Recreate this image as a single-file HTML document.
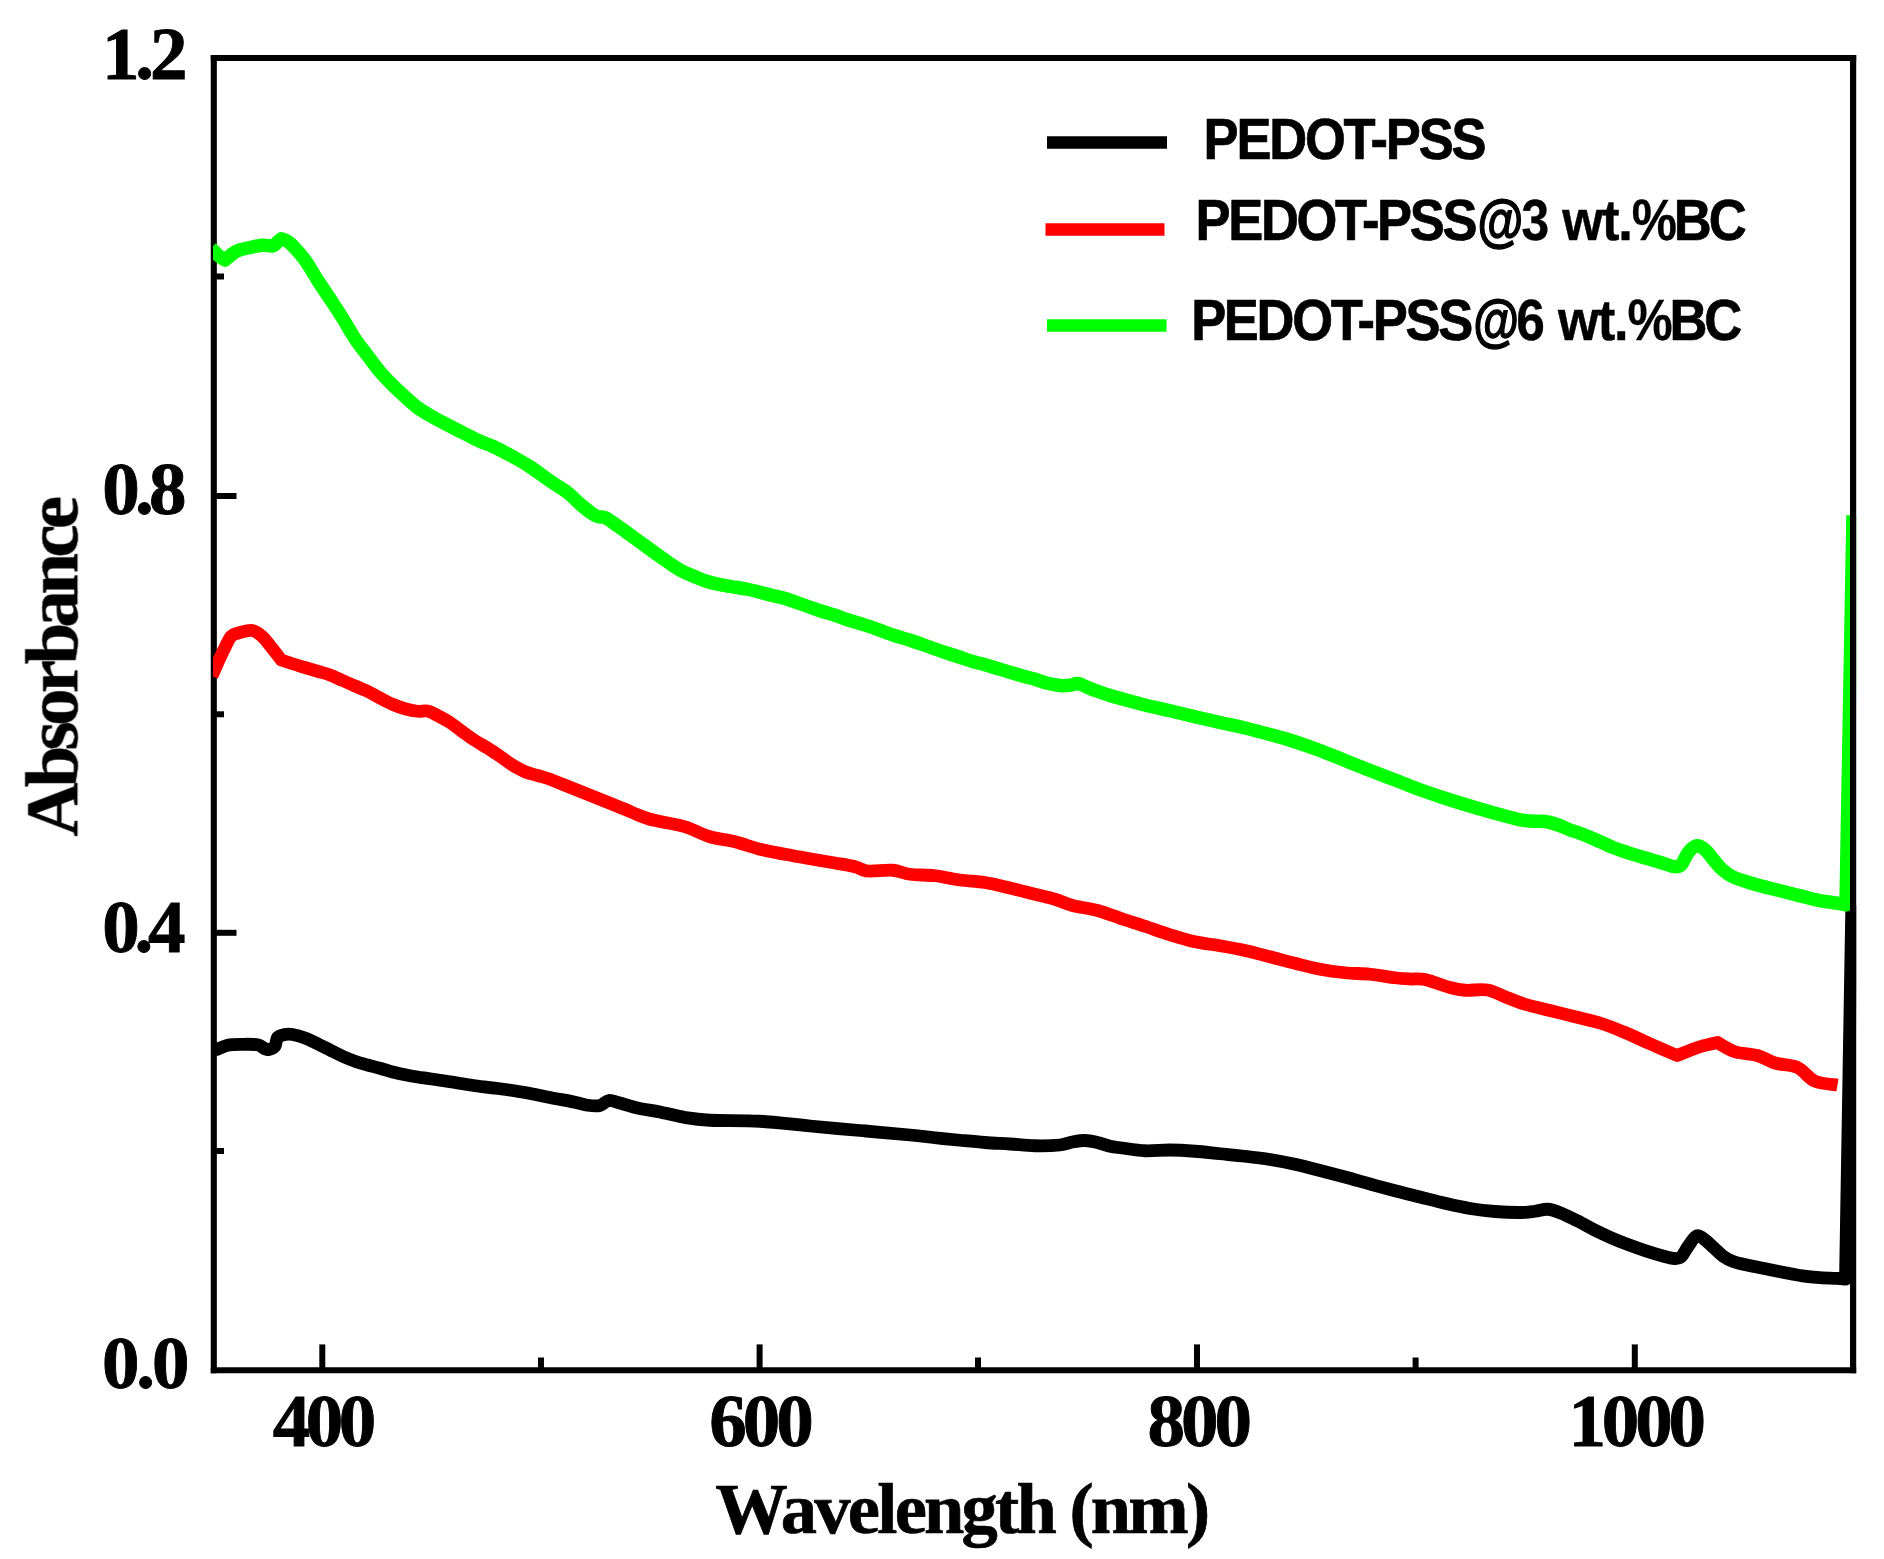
<!DOCTYPE html>
<html><head><meta charset="utf-8"><title>Absorbance spectra</title>
<style>
html,body{margin:0;padding:0;background:#fff;overflow:hidden;}
svg{display:block;}
.s{font-family:"Liberation Serif","DejaVu Serif",serif;font-weight:bold;fill:#000;}
.a{font-family:"Liberation Sans","DejaVu Sans",sans-serif;font-weight:bold;fill:#000;}
</style></head><body>
<svg width="1884" height="1559" viewBox="0 0 1884 1559">
<rect width="1884" height="1559" fill="#fff"/>
<filter id="soft" x="0" y="0" width="1884" height="1559" filterUnits="userSpaceOnUse"><feGaussianBlur stdDeviation="0.55"/></filter>
<g filter="url(#soft)">
<!-- axes under curves -->
<g stroke="#000" fill="none">
<line x1="213.8" y1="55.1" x2="213.8" y2="1373.3" stroke-width="6.1"/>
<line x1="210.75" y1="58.1" x2="1856.2" y2="58.1" stroke-width="6"/>
<line x1="210.75" y1="1370.3" x2="1856.2" y2="1370.3" stroke-width="6.1"/>
</g>
<!-- data curves -->
<clipPath id="plotclip"><rect x="213" y="0" width="1643.2" height="1559"/></clipPath>
<g fill="none" stroke-linejoin="round" stroke-linecap="butt" clip-path="url(#plotclip)">
<path stroke="#000" stroke-width="12.8" d="M211.00,1051.00C212.08,1050.71 214.75,1050.22 217.50,1049.25C220.25,1048.28 223.33,1046.03 227.50,1045.20C231.67,1044.38 237.50,1044.37 242.50,1044.30C247.50,1044.23 253.75,1044.06 257.50,1044.80C261.25,1045.54 263.12,1047.97 265.00,1048.75C266.88,1049.53 267.08,1049.92 268.75,1049.50C270.42,1049.08 273.54,1048.25 275.00,1046.25C276.46,1044.25 275.83,1039.46 277.50,1037.50C279.17,1035.54 282.50,1035.00 285.00,1034.50C287.50,1034.00 289.17,1033.92 292.50,1034.50C295.83,1035.08 300.83,1036.46 305.00,1038.00C309.17,1039.54 313.33,1041.75 317.50,1043.75C321.67,1045.75 325.83,1047.92 330.00,1050.00C334.17,1052.08 338.33,1054.38 342.50,1056.25C346.67,1058.12 350.83,1059.79 355.00,1061.25C359.17,1062.71 363.33,1063.83 367.50,1065.00C371.67,1066.17 375.83,1067.08 380.00,1068.25C384.17,1069.42 388.33,1070.92 392.50,1072.00C396.67,1073.08 400.83,1073.92 405.00,1074.75C409.17,1075.58 413.33,1076.33 417.50,1077.00C421.67,1077.67 424.58,1077.96 430.00,1078.75C435.42,1079.54 442.50,1080.58 450.00,1081.75C457.50,1082.92 466.67,1084.58 475.00,1085.75C483.33,1086.92 491.67,1087.62 500.00,1088.75C508.33,1089.88 516.67,1091.04 525.00,1092.50C533.33,1093.96 541.67,1095.88 550.00,1097.50C558.33,1099.12 568.75,1100.96 575.00,1102.25C581.25,1103.54 583.33,1104.71 587.50,1105.25C591.67,1105.79 596.46,1106.29 600.00,1105.50C603.54,1104.71 605.42,1100.92 608.75,1100.50C612.08,1100.08 615.21,1101.75 620.00,1103.00C624.79,1104.25 630.83,1106.50 637.50,1108.00C644.17,1109.50 652.08,1110.42 660.00,1112.00C667.92,1113.58 676.67,1116.12 685.00,1117.50C693.33,1118.88 697.50,1119.62 710.00,1120.25C722.50,1120.88 743.33,1120.29 760.00,1121.25C776.67,1122.21 793.33,1124.46 810.00,1126.00C826.67,1127.54 843.33,1129.00 860.00,1130.50C876.67,1132.00 897.50,1133.79 910.00,1135.00C922.50,1136.21 926.67,1136.88 935.00,1137.75C943.33,1138.62 951.67,1139.46 960.00,1140.25C968.33,1141.04 976.67,1141.88 985.00,1142.50C993.33,1143.12 1001.67,1143.46 1010.00,1144.00C1018.33,1144.54 1026.67,1145.58 1035.00,1145.75C1043.33,1145.92 1053.75,1145.62 1060.00,1145.00C1066.25,1144.38 1068.33,1142.75 1072.50,1142.00C1076.67,1141.25 1080.83,1140.42 1085.00,1140.50C1089.17,1140.58 1093.33,1141.54 1097.50,1142.50C1101.67,1143.46 1105.92,1145.33 1110.00,1146.25C1114.08,1147.17 1116.17,1147.25 1122.00,1148.00C1127.83,1148.75 1137.00,1150.42 1145.00,1150.75C1153.00,1151.08 1161.67,1149.92 1170.00,1150.00C1178.33,1150.08 1186.67,1150.62 1195.00,1151.25C1203.33,1151.88 1211.67,1152.92 1220.00,1153.75C1228.33,1154.58 1236.67,1155.29 1245.00,1156.25C1253.33,1157.21 1261.67,1158.17 1270.00,1159.50C1278.33,1160.83 1286.67,1162.42 1295.00,1164.25C1303.33,1166.08 1311.67,1168.38 1320.00,1170.50C1328.33,1172.62 1336.67,1174.75 1345.00,1177.00C1353.33,1179.25 1361.67,1181.71 1370.00,1184.00C1378.33,1186.29 1386.67,1188.58 1395.00,1190.75C1403.33,1192.92 1411.67,1194.92 1420.00,1197.00C1428.33,1199.08 1436.67,1201.33 1445.00,1203.25C1453.33,1205.17 1461.67,1207.12 1470.00,1208.50C1478.33,1209.88 1486.67,1210.83 1495.00,1211.50C1503.33,1212.17 1513.33,1212.54 1520.00,1212.50C1526.67,1212.46 1530.42,1211.79 1535.00,1211.25C1539.58,1210.71 1543.33,1209.01 1547.50,1209.25C1551.67,1209.49 1555.03,1210.78 1560.00,1212.70C1564.97,1214.62 1571.53,1217.92 1577.30,1220.80C1583.07,1223.68 1588.83,1227.12 1594.60,1230.00C1600.37,1232.88 1606.12,1235.60 1611.90,1238.10C1617.68,1240.60 1623.52,1242.83 1629.30,1245.00C1635.08,1247.17 1640.83,1249.22 1646.60,1251.10C1652.37,1252.98 1659.28,1255.07 1663.90,1256.30C1668.52,1257.53 1671.42,1258.42 1674.30,1258.50C1677.18,1258.58 1678.90,1258.82 1681.20,1256.80C1683.50,1254.78 1685.50,1249.92 1688.10,1246.40C1690.70,1242.88 1693.90,1236.72 1696.80,1235.70C1699.70,1234.68 1702.62,1238.23 1705.50,1240.30C1708.38,1242.37 1711.22,1245.50 1714.10,1248.10C1716.98,1250.70 1719.62,1253.67 1722.80,1255.90C1725.98,1258.13 1728.58,1259.85 1733.20,1261.50C1737.82,1263.15 1744.73,1264.50 1750.50,1265.80C1756.27,1267.10 1762.03,1268.15 1767.80,1269.30C1773.57,1270.45 1779.33,1271.62 1785.10,1272.70C1790.87,1273.78 1796.63,1274.98 1802.40,1275.80C1808.17,1276.62 1813.92,1277.17 1819.70,1277.60C1825.48,1278.03 1834.20,1278.27 1837.10,1278.40L1845.50,1279.20L1851.80,905.00"/>
<path stroke="#f00" stroke-width="12.8" d="M212.00,676.00C213.17,673.33 216.83,664.75 219.00,660.00C221.17,655.25 222.96,651.46 225.00,647.50C227.04,643.54 228.75,638.75 231.25,636.25C233.75,633.75 236.46,633.46 240.00,632.50C243.54,631.54 248.75,629.79 252.50,630.50C256.25,631.21 259.17,633.71 262.50,636.75C265.83,639.79 269.38,644.88 272.50,648.75C275.62,652.62 279.79,658.12 281.25,660.00C283.12,660.62 288.54,662.50 292.50,663.75C296.46,665.00 300.83,666.25 305.00,667.50C309.17,668.75 313.33,670.00 317.50,671.25C321.67,672.50 325.83,673.46 330.00,675.00C334.17,676.54 338.33,678.67 342.50,680.50C346.67,682.33 350.83,684.21 355.00,686.00C359.17,687.79 363.33,689.25 367.50,691.25C371.67,693.25 375.83,695.83 380.00,698.00C384.17,700.17 388.33,702.46 392.50,704.25C396.67,706.04 400.83,707.58 405.00,708.75C409.17,709.92 413.75,710.88 417.50,711.25C421.25,711.62 424.17,710.29 427.50,711.00C430.83,711.71 433.75,713.58 437.50,715.50C441.25,717.42 445.83,719.79 450.00,722.50C454.17,725.21 458.33,728.75 462.50,731.75C466.67,734.75 470.83,737.79 475.00,740.50C479.17,743.21 483.33,745.38 487.50,748.00C491.67,750.62 495.83,753.42 500.00,756.25C504.17,759.08 508.33,762.42 512.50,765.00C516.67,767.58 520.83,770.00 525.00,771.75C529.17,773.50 533.33,774.25 537.50,775.50C541.67,776.75 545.83,777.79 550.00,779.25C554.17,780.71 558.33,782.58 562.50,784.25C566.67,785.92 570.83,787.58 575.00,789.25C579.17,790.92 583.33,792.58 587.50,794.25C591.67,795.92 595.83,797.58 600.00,799.25C604.17,800.92 608.33,802.58 612.50,804.25C616.67,805.92 620.83,807.50 625.00,809.25C629.17,811.00 633.33,813.08 637.50,814.75C641.67,816.42 646.25,818.12 650.00,819.25C653.75,820.38 654.17,820.25 660.00,821.50C665.83,822.75 676.67,824.21 685.00,826.75C693.33,829.29 701.67,834.25 710.00,836.75C718.33,839.25 726.67,839.67 735.00,841.75C743.33,843.83 751.67,847.17 760.00,849.25C768.33,851.33 776.67,852.67 785.00,854.25C793.33,855.83 801.67,857.29 810.00,858.75C818.33,860.21 827.50,861.67 835.00,863.00C842.50,864.33 849.58,865.42 855.00,866.75C860.42,868.08 861.25,870.42 867.50,871.00C873.75,871.58 885.42,869.71 892.50,870.25C899.58,870.79 902.92,873.33 910.00,874.25C917.08,875.17 926.67,874.79 935.00,875.75C943.33,876.71 951.67,878.88 960.00,880.00C968.33,881.12 976.67,881.17 985.00,882.50C993.33,883.83 1001.67,886.04 1010.00,888.00C1018.33,889.96 1027.50,892.38 1035.00,894.25C1042.50,896.12 1048.75,897.38 1055.00,899.25C1061.25,901.12 1065.42,903.62 1072.50,905.50C1079.58,907.38 1089.17,908.25 1097.50,910.50C1105.83,912.75 1114.58,916.38 1122.50,919.00C1130.42,921.62 1137.08,923.62 1145.00,926.25C1152.92,928.88 1161.67,932.17 1170.00,934.75C1178.33,937.33 1186.67,939.92 1195.00,941.75C1203.33,943.58 1211.67,944.29 1220.00,945.75C1228.33,947.21 1236.67,948.67 1245.00,950.50C1253.33,952.33 1261.67,954.62 1270.00,956.75C1278.33,958.88 1286.67,961.17 1295.00,963.25C1303.33,965.33 1311.67,967.67 1320.00,969.25C1328.33,970.83 1336.67,971.92 1345.00,972.75C1353.33,973.58 1361.67,973.42 1370.00,974.25C1378.33,975.08 1388.33,976.96 1395.00,977.75C1401.67,978.54 1405.00,978.71 1410.00,979.00C1415.00,979.29 1418.33,978.08 1425.00,979.50C1431.67,980.92 1443.33,985.71 1450.00,987.50C1456.67,989.29 1458.75,989.83 1465.00,990.25C1471.25,990.67 1480.83,988.92 1487.50,990.00C1494.17,991.08 1498.75,994.38 1505.00,996.75C1511.25,999.12 1517.50,1001.96 1525.00,1004.25C1532.50,1006.54 1541.67,1008.42 1550.00,1010.50C1558.33,1012.58 1566.67,1014.67 1575.00,1016.75C1583.33,1018.83 1591.67,1020.38 1600.00,1023.00C1608.33,1025.62 1616.67,1029.04 1625.00,1032.50C1633.33,1035.96 1641.33,1039.92 1650.00,1043.75C1658.67,1047.58 1672.50,1053.54 1677.00,1055.50C1680.83,1054.04 1693.25,1048.92 1700.00,1046.75C1706.75,1044.58 1714.58,1043.21 1717.50,1042.50C1720.42,1044.04 1728.33,1049.58 1735.00,1051.75C1741.67,1053.92 1750.83,1053.62 1757.50,1055.50C1764.17,1057.38 1768.33,1061.00 1775.00,1063.00C1781.67,1065.00 1790.83,1064.46 1797.50,1067.50C1804.17,1070.54 1808.33,1078.33 1815.00,1081.25C1821.67,1084.17 1833.75,1084.38 1837.50,1085.00"/>
<path stroke="#0f0" stroke-width="13.5" d="M211.00,248.00C212.33,249.33 216.67,254.00 219.00,256.00C221.33,258.00 224.00,259.33 225.00,260.00C226.00,259.17 228.92,256.54 231.00,255.00C233.08,253.46 234.33,252.00 237.50,250.75C240.67,249.50 245.83,248.42 250.00,247.50C254.17,246.58 258.75,245.50 262.50,245.25C266.25,245.00 270.08,246.46 272.50,246.00C274.92,245.54 275.54,243.71 277.00,242.50C278.46,241.29 280.54,239.38 281.25,238.75C282.21,239.12 285.12,239.88 287.00,241.00C288.88,242.12 289.50,242.33 292.50,245.50C295.50,248.67 300.83,254.25 305.00,260.00C309.17,265.75 313.33,273.54 317.50,280.00C321.67,286.46 325.83,292.42 330.00,298.75C334.17,305.08 338.33,311.33 342.50,318.00C346.67,324.67 350.83,332.50 355.00,338.75C359.17,345.00 363.33,350.00 367.50,355.50C371.67,361.00 375.83,366.83 380.00,371.75C384.17,376.67 388.33,380.83 392.50,385.00C396.67,389.17 400.83,393.00 405.00,396.75C409.17,400.50 413.33,404.38 417.50,407.50C421.67,410.62 425.83,413.04 430.00,415.50C434.17,417.96 438.33,420.04 442.50,422.25C446.67,424.46 450.83,426.62 455.00,428.75C459.17,430.88 463.33,432.92 467.50,435.00C471.67,437.08 475.83,439.38 480.00,441.25C484.17,443.12 488.33,444.38 492.50,446.25C496.67,448.12 500.83,450.33 505.00,452.50C509.17,454.67 513.33,456.88 517.50,459.25C521.67,461.62 525.83,464.04 530.00,466.75C534.17,469.46 538.33,472.58 542.50,475.50C546.67,478.42 550.83,481.42 555.00,484.25C559.17,487.08 563.33,489.21 567.50,492.50C571.67,495.79 575.80,500.42 580.00,504.00C584.20,507.58 589.53,511.87 592.70,514.00C595.87,516.13 596.87,516.17 599.00,516.80C601.13,517.43 602.30,516.22 605.50,517.80C608.70,519.38 613.95,523.35 618.20,526.30C622.45,529.25 626.75,532.43 631.00,535.50C635.25,538.57 639.47,541.62 643.70,544.70C647.93,547.78 652.15,550.95 656.40,554.00C660.65,557.05 664.95,560.17 669.20,563.00C673.45,565.83 677.67,568.73 681.90,571.00C686.13,573.27 690.35,574.85 694.60,576.60C698.85,578.35 703.15,580.15 707.40,581.50C711.65,582.85 715.50,583.74 720.10,584.70C724.70,585.66 730.43,586.49 735.00,587.25C739.57,588.01 743.33,588.42 747.50,589.25C751.67,590.08 755.83,591.21 760.00,592.25C764.17,593.29 768.33,594.46 772.50,595.50C776.67,596.54 780.83,597.29 785.00,598.50C789.17,599.71 793.33,601.29 797.50,602.75C801.67,604.21 805.83,605.79 810.00,607.25C814.17,608.71 818.33,610.17 822.50,611.50C826.67,612.83 830.83,613.88 835.00,615.25C839.17,616.62 843.33,618.38 847.50,619.75C851.67,621.12 855.83,622.21 860.00,623.50C864.17,624.79 868.33,626.04 872.50,627.50C876.67,628.96 880.83,630.75 885.00,632.25C889.17,633.75 893.33,635.17 897.50,636.50C901.67,637.83 905.83,638.92 910.00,640.25C914.17,641.58 918.33,643.04 922.50,644.50C926.67,645.96 930.83,647.54 935.00,649.00C939.17,650.46 943.33,651.88 947.50,653.25C951.67,654.62 955.83,655.88 960.00,657.25C964.17,658.62 968.33,660.25 972.50,661.50C976.67,662.75 980.83,663.58 985.00,664.75C989.17,665.92 993.33,667.25 997.50,668.50C1001.67,669.75 1005.83,671.00 1010.00,672.25C1014.17,673.50 1018.33,674.83 1022.50,676.00C1026.67,677.17 1030.83,678.04 1035.00,679.25C1039.17,680.46 1043.33,682.21 1047.50,683.25C1051.67,684.29 1056.25,685.17 1060.00,685.50C1063.75,685.83 1067.08,685.58 1070.00,685.25C1072.92,684.92 1075.00,683.33 1077.50,683.50C1080.00,683.67 1081.67,684.96 1085.00,686.25C1088.33,687.54 1093.33,689.71 1097.50,691.25C1101.67,692.79 1105.83,694.21 1110.00,695.50C1114.17,696.79 1116.67,697.42 1122.50,699.00C1128.33,700.58 1137.08,703.04 1145.00,705.00C1152.92,706.96 1161.67,708.79 1170.00,710.75C1178.33,712.71 1186.67,714.79 1195.00,716.75C1203.33,718.71 1211.67,720.62 1220.00,722.50C1228.33,724.38 1236.67,726.00 1245.00,728.00C1253.33,730.00 1261.67,732.21 1270.00,734.50C1278.33,736.79 1286.67,739.08 1295.00,741.75C1303.33,744.42 1311.67,747.38 1320.00,750.50C1328.33,753.62 1336.67,757.17 1345.00,760.50C1353.33,763.83 1361.67,767.25 1370.00,770.50C1378.33,773.75 1386.67,776.79 1395.00,780.00C1403.33,783.21 1411.67,786.71 1420.00,789.75C1428.33,792.79 1436.67,795.54 1445.00,798.25C1453.33,800.96 1461.67,803.50 1470.00,806.00C1478.33,808.50 1486.67,810.96 1495.00,813.25C1503.33,815.54 1513.75,818.42 1520.00,819.75C1526.25,821.08 1528.33,820.96 1532.50,821.25C1536.67,821.54 1540.83,820.92 1545.00,821.50C1549.17,822.08 1553.33,823.33 1557.50,824.75C1561.67,826.17 1566.70,828.74 1570.00,830.00C1573.30,831.26 1573.20,830.77 1577.30,832.30C1581.40,833.83 1588.83,836.75 1594.60,839.20C1600.37,841.65 1606.12,844.68 1611.90,847.00C1617.68,849.32 1623.52,851.22 1629.30,853.10C1635.08,854.98 1640.83,856.57 1646.60,858.30C1652.37,860.03 1659.28,862.12 1663.90,863.50C1668.52,864.88 1671.42,866.38 1674.30,866.60C1677.18,866.82 1678.90,867.12 1681.20,864.80C1683.50,862.48 1685.50,855.87 1688.10,852.70C1690.70,849.53 1693.90,846.23 1696.80,845.80C1699.70,845.37 1702.62,847.65 1705.50,850.10C1708.38,852.55 1711.22,857.18 1714.10,860.50C1716.98,863.82 1719.62,867.25 1722.80,870.00C1725.98,872.75 1728.58,874.83 1733.20,877.00C1737.82,879.17 1744.73,881.22 1750.50,883.00C1756.27,884.78 1762.03,886.20 1767.80,887.70C1773.57,889.20 1779.33,890.55 1785.10,892.00C1790.87,893.45 1796.63,894.95 1802.40,896.40C1808.17,897.85 1813.92,899.58 1819.70,900.70C1825.48,901.82 1834.20,902.70 1837.10,903.10L1846.00,904.80L1853.00,515.30"/>
</g>
<!-- right border on top -->
<line x1="1853.1" y1="55.1" x2="1853.1" y2="1373.35" stroke="#000" stroke-width="6.2"/>
<!-- ticks -->
<g stroke="#000" stroke-width="6">
<line x1="213.8" y1="496" x2="236.5" y2="496"/>
<line x1="213.8" y1="932.8" x2="236.5" y2="932.8"/>
<line x1="213.8" y1="276.5" x2="224" y2="276.5"/>
<line x1="213.8" y1="714.3" x2="224" y2="714.3"/>
<line x1="213.8" y1="1151" x2="224" y2="1151"/>
<line x1="322.3" y1="1344.4" x2="322.3" y2="1370"/>
<line x1="759.6" y1="1344.4" x2="759.6" y2="1370"/>
<line x1="1197" y1="1344.4" x2="1197" y2="1370"/>
<line x1="1634.8" y1="1344.4" x2="1634.8" y2="1370"/>
<line x1="541" y1="1357.5" x2="541" y2="1370"/>
<line x1="978" y1="1357.5" x2="978" y2="1370"/>
<line x1="1415.6" y1="1357.5" x2="1415.6" y2="1370"/>
</g>
<!-- legend -->
<g stroke-width="12.3">
<line x1="1047" y1="142.5" x2="1167" y2="142.5" stroke="#000"/>
<line x1="1045.5" y1="229.5" x2="1164.5" y2="229.5" stroke="#f00"/>
<line x1="1047" y1="325.5" x2="1166.5" y2="325.5" stroke="#0f0"/>
</g>
<text class="a" font-size="56.5" stroke="#000" transform="translate(0,158.7) scale(0.93,1)" y="0"><tspan x="1294.15" stroke-width="0.7" style="letter-spacing:-2.378px">PEDOT-PSS</tspan></text>
<text class="a" font-size="56.5" stroke="#000" transform="translate(0,239.6) scale(0.93,1)" y="0"><tspan x="1285.44" stroke-width="0.7" style="letter-spacing:-2.499px">PEDOT-PSS</tspan><tspan x="1588.77" stroke-width="1.3" textLength="49.21" lengthAdjust="spacingAndGlyphs">@</tspan><tspan x="1636.15" stroke-width="0.4" textLength="29.71" lengthAdjust="spacingAndGlyphs">3</tspan><tspan> </tspan><tspan x="1679.87" stroke-width="0.5" style="letter-spacing:-1.268px">wt.</tspan><tspan x="1754.57" stroke-width="0.3" textLength="48.62" lengthAdjust="spacingAndGlyphs">%</tspan><tspan x="1799.85" stroke-width="0.7" style="letter-spacing:-3.394px">BC</tspan></text>
<text class="a" font-size="56.5" stroke="#000" transform="translate(0,340.2) scale(0.93,1)" y="0"><tspan x="1280.82" stroke-width="0.7" style="letter-spacing:-2.499px">PEDOT-PSS</tspan><tspan x="1584.15" stroke-width="1.3" textLength="49.21" lengthAdjust="spacingAndGlyphs">@</tspan><tspan x="1630.51" stroke-width="0.4" textLength="30.77" lengthAdjust="spacingAndGlyphs">6</tspan><tspan> </tspan><tspan x="1675.25" stroke-width="0.5" style="letter-spacing:-1.268px">wt.</tspan><tspan x="1749.95" stroke-width="0.3" textLength="48.62" lengthAdjust="spacingAndGlyphs">%</tspan><tspan x="1795.23" stroke-width="0.7" style="letter-spacing:-3.394px">BC</tspan></text>
<text class="s" font-size="75" stroke="#000" stroke-width="0.9" x="102.05" y="78.6" style="letter-spacing:-4.175px">1.2</text>
<text class="s" font-size="75" stroke="#000" stroke-width="0.9" x="102.25" y="513.6" style="letter-spacing:-4.775px">0.8</text>
<text class="s" font-size="75" stroke="#000" stroke-width="0.9" x="102.25" y="951.6" style="letter-spacing:-5.275px">0.4</text>
<text class="s" font-size="75" stroke="#000" stroke-width="0.9" x="101.95" y="1388.2" style="letter-spacing:-3.125px">0.0</text>
<text class="s" font-size="75" stroke="#000" stroke-width="0.9" x="272.85" y="1446" style="letter-spacing:-4.550px">400</text>
<text class="s" font-size="75" stroke="#000" stroke-width="0.9" x="709.35" y="1445.6" style="letter-spacing:-4.000px">600</text>
<text class="s" font-size="75" stroke="#000" stroke-width="0.9" x="1147.45" y="1445.6" style="letter-spacing:-3.950px">800</text>
<text class="s" font-size="75" stroke="#000" stroke-width="0.9" x="1568.45" y="1446" style="letter-spacing:-4.133px">1000</text>
<text class="s" font-size="72.5" stroke="#000" stroke-width="0.7" x="715.15" y="1532.5" style="letter-spacing:-2.766px">Wavelength (nm)</text>
<text class="s" font-size="75" stroke="#000" stroke-width="0.4" transform="translate(77.3,836.9) rotate(-90)" x="0.20" y="0" style="letter-spacing:-4.729px">Absorbance</text>
</g>
</svg>
</body></html>
